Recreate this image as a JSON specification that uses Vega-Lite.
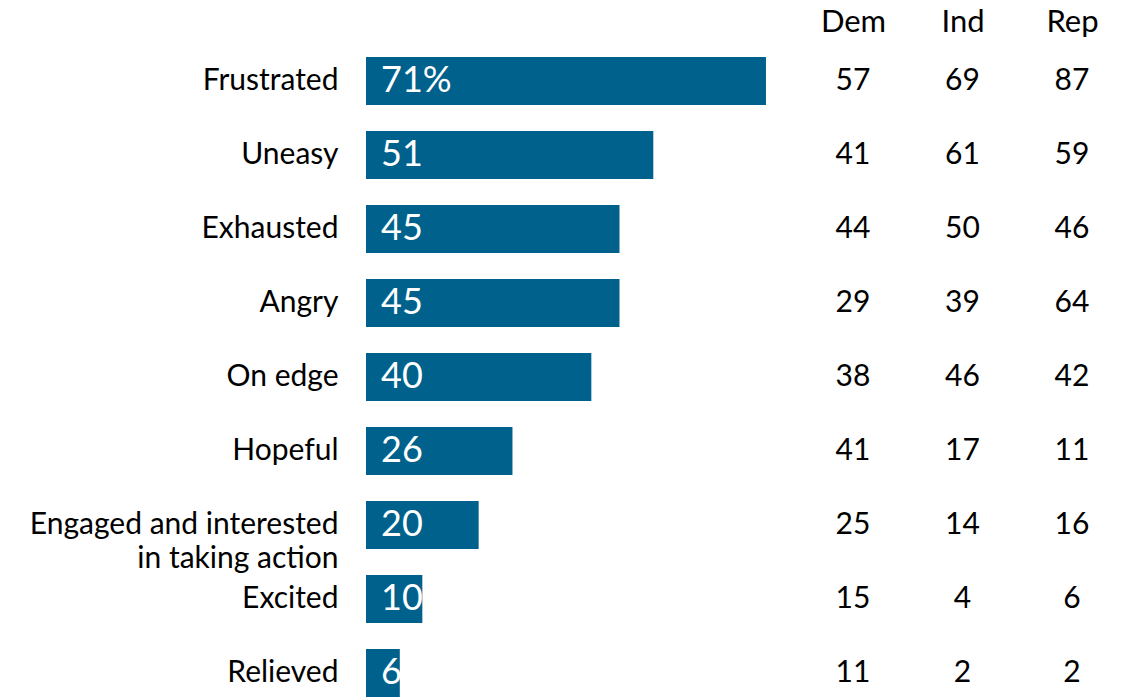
{
  "$schema": "https://vega.github.io/schema/vega-lite/v6.json",
  "width": 756,
  "height": 666,
  "autosize": "none",
  "padding": {"left": 366, "top": 44, "right": 0, "bottom": 0},
  "background": "white",
  "config": {"view": {"stroke": null}, "font": "Lato"},
  "data": {
    "values": [
      {"emotion": "Frustrated", "total": 71, "label": "71%", "Dem": 57, "Ind": 69, "Rep": 87},
      {"emotion": "Uneasy", "total": 51, "label": "51", "Dem": 41, "Ind": 61, "Rep": 59},
      {"emotion": "Exhausted", "total": 45, "label": "45", "Dem": 44, "Ind": 50, "Rep": 46},
      {"emotion": "Angry", "total": 45, "label": "45", "Dem": 29, "Ind": 39, "Rep": 64},
      {"emotion": "On edge", "total": 40, "label": "40", "Dem": 38, "Ind": 46, "Rep": 42},
      {"emotion": "Hopeful", "total": 26, "label": "26", "Dem": 41, "Ind": 17, "Rep": 11},
      {"emotion": "Engaged and interested|in taking action", "total": 20, "label": "20", "Dem": 25, "Ind": 14, "Rep": 16},
      {"emotion": "Excited", "total": 10, "label": "10", "Dem": 15, "Ind": 4, "Rep": 6},
      {"emotion": "Relieved", "total": 6, "label": "6", "Dem": 11, "Ind": 2, "Rep": 2}
    ]
  },
  "encoding": {
    "y": {
      "field": "emotion",
      "type": "nominal",
      "sort": null,
      "scale": {"paddingInner": 0.35, "paddingOuter": 0.175},
      "axis": {
        "title": null,
        "domain": false,
        "ticks": false,
        "labelPadding": 28,
        "labelFontSize": 30,
        "labelColor": "#000000",
        "labelFont": "Lato",
        "labelExpr": "split(datum.label, '|')",
        "labelLineHeight": 34,
        "labelLimit": 400
      }
    }
  },
  "layer": [
    {
      "mark": {"type": "bar", "color": "#00628C"},
      "encoding": {
        "x": {"field": "total", "type": "quantitative", "scale": {"domain": [0, 134.2], "nice": false}, "axis": null}
      }
    },
    {
      "mark": {"type": "text", "color": "white", "align": "left", "dx": 15, "fontSize": 36, "baseline": "middle"},
      "encoding": {
        "x": {"datum": 0, "type": "quantitative"},
        "text": {"field": "label"}
      }
    },
    {
      "transform": [{"fold": ["Dem", "Ind", "Rep"], "as": ["party", "val"]}],
      "mark": {"type": "text", "fontSize": 30, "color": "#000000", "baseline": "middle"},
      "encoding": {
        "x": {
          "field": "party",
          "type": "nominal",
          "sort": ["Dem", "Ind", "Rep"],
          "scale": {"type": "point", "range": [487, 706], "padding": 0},
          "axis": {
            "orient": "top",
            "title": null,
            "domain": false,
            "ticks": false,
            "labelAngle": 0,
            "labelFontSize": 31,
            "labelColor": "#000000",
            "labelFont": "Lato",
            "labelPadding": 6
          }
        },
        "text": {"field": "val", "type": "quantitative"}
      }
    }
  ],
  "resolve": {"scale": {"x": "independent"}}
}
